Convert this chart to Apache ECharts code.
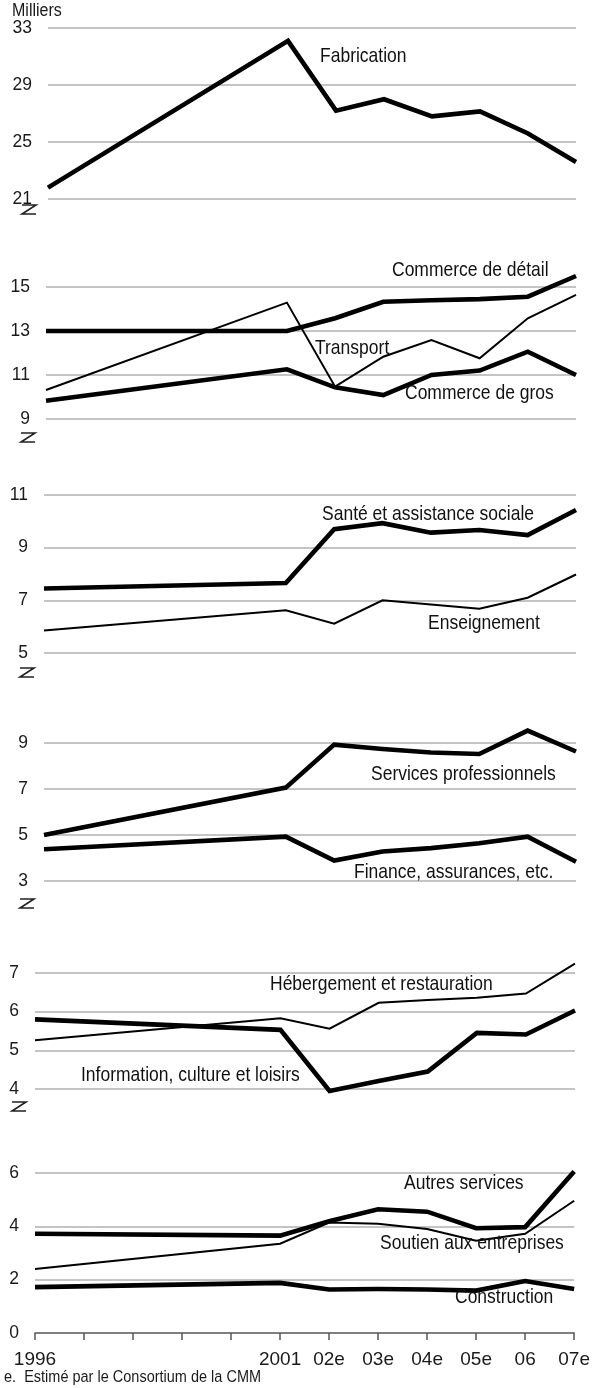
<!DOCTYPE html>
<html>
<head>
<meta charset="utf-8">
<script src="https://cdn.jsdelivr.net/npm/echarts@6/dist/echarts.min.js"></script>
<style>
  html, body { margin: 0; padding: 0; background: #fff; }
  #main { width: 593px; height: 1388px; }
</style>
</head>
<body>
<div id="main"></div>
<script>
// années (1997 à 2000 sans données, la ligne est reliée)
var categories = ['1996', '1997', '1998', '1999', '2000', '2001', '2002', '2003', '2004', '2005', '2006', '2007'];
var tickLabels = ['1996', '', '', '', '', '2001', '02e', '03e', '04e', '05e', '06', '07e'];

// en milliers d'emplois
var fabrication    = [21.8, null, null, null, null, 32.1, 27.2, 28.0, 26.8, 27.15, 25.6, 23.6];
var commerceDetail = [13.0, null, null, null, null, 13.0, 13.58, 14.33, 14.4, 14.45, 14.56, 15.5];
var transport      = [10.32, null, null, null, null, 14.29, 10.47, 11.83, 12.59, 11.76, 13.58, 14.64];
var commerceGros   = [9.83, null, null, null, null, 11.26, 10.44, 10.09, 11.0, 11.2, 12.06, 11.0];
var sante          = [7.45, null, null, null, null, 7.66, 9.70, 9.93, 9.57, 9.67, 9.48, 10.43];
var enseignement   = [5.85, null, null, null, null, 6.62, 6.11, 7.0, 6.84, 6.68, 7.1, 7.98];
var servicesPro    = [5.0, null, null, null, null, 7.06, 8.93, 8.74, 8.59, 8.52, 9.54, 8.63];
var finance        = [4.38, null, null, null, null, 4.93, 3.89, 4.28, 4.43, 4.64, 4.93, 3.84];
var hebergement    = [5.26, null, null, null, null, 5.83, 5.56, 6.23, 6.3, 6.36, 6.47, 7.24];
var information    = [5.8, null, null, null, null, 5.53, 3.95, 4.21, 4.45, 5.45, 5.41, 6.03];
var autresServices = [3.72, null, null, null, null, 3.65, 4.19, 4.64, 4.55, 3.93, 3.97, 6.06];
var soutien        = [2.4, null, null, null, null, 3.35, 4.14, 4.1, 3.9, 3.46, 3.72, 4.96];
var construction   = [1.72, null, null, null, null, 1.88, 1.63, 1.65, 1.63, 1.59, 1.95, 1.65];

var FONT = 'Liberation Sans, Arial, sans-serif';

var myChart = echarts.init(document.getElementById('main'));

// un panneau = une grille
var panels = [
    {grid: {left: 48, right: 17, top: 28, height: 171}, min: 21, max: 33, interval: 4,
     series: [{name: 'Fabrication', data: fabrication, width: 4.6}]},
    {grid: {left: 46, right: 17, top: 287, height: 132}, min: 9, max: 15, interval: 2,
     series: [{name: 'Commerce de détail', data: commerceDetail, width: 4.6},
              {name: 'Transport', data: transport, width: 2},
              {name: 'Commerce de gros', data: commerceGros, width: 4.6}]},
    {grid: {left: 44, right: 17, top: 495, height: 158}, min: 5, max: 11, interval: 2,
     series: [{name: 'Santé et assistance sociale', data: sante, width: 4.6},
              {name: 'Enseignement', data: enseignement, width: 2}]},
    {grid: {left: 44, right: 17, top: 743, height: 138}, min: 3, max: 9, interval: 2,
     series: [{name: 'Services professionnels', data: servicesPro, width: 4.6},
              {name: 'Finance, assurances, etc.', data: finance, width: 4.6}]},
    {grid: {left: 35, right: 18, top: 973, height: 116}, min: 4, max: 7, interval: 1,
     series: [{name: 'Hébergement et restauration', data: hebergement, width: 2},
              {name: 'Information, culture et loisirs', data: information, width: 4.6}]},
    {grid: {left: 35, right: 15, top: 1173, height: 160}, min: 0, max: 6, interval: 2,
     series: [{name: 'Autres services', data: autresServices, width: 4.6},
              {name: 'Soutien aux entreprises', data: soutien, width: 2},
              {name: 'Construction', data: construction, width: 4.6}]}
];

var grids = [], xAxes = [], yAxes = [], seriesList = [];

panels.forEach(function (p, i) {
    var last = (i === panels.length - 1);
    grids.push(p.grid);
    xAxes.push({
        type: 'category',
        gridIndex: i,
        data: categories,
        boundaryGap: false,
        show: last,
        axisLine: {show: last, lineStyle: {color: '#555', width: 1.5}},
        axisTick: {show: last, interval: 0, length: 7, lineStyle: {color: '#555', width: 1.5}},
        axisLabel: {
            show: last, interval: 0, margin: 17, fontSize: 19, color: '#1a1a1a', fontFamily: FONT,
            formatter: function (v, idx) { return tickLabels[idx]; }
        },
        splitLine: {show: false}
    });
    yAxes.push({
        type: 'value',
        gridIndex: i,
        min: p.min, max: p.max, interval: p.interval,
        axisLine: {show: false},
        axisTick: {show: false},
        axisLabel: {margin: 16, fontSize: 17.5, color: '#1a1a1a', fontFamily: FONT},
        splitLine: {
            show: true,
            lineStyle: {color: '#c4c4c4', width: 2},
            showMinLine: !last
        }
    });
    p.series.forEach(function (s) {
        seriesList.push({
            name: s.name,
            type: 'line',
            xAxisIndex: i,
            yAxisIndex: i,
            data: s.data,
            connectNulls: true,
            showSymbol: false,
            symbol: 'none',
            clip: false,
            silent: true,
            lineStyle: {color: '#000', width: s.width, join: 'miter'}
        });
    });
});

// étiquettes des séries (texte un peu étiré en hauteur comme l'original)
var seriesLabels = [
    ['Fabrication', 320, 56],
    ['Commerce de détail', 392, 270],
    ['Transport', 315, 348],
    ['Commerce de gros', 405, 393],
    ['Santé et assistance sociale', 322, 514],
    ['Enseignement', 428, 623],
    ['Services professionnels', 371, 774],
    ['Finance, assurances, etc.', 354, 872],
    ['Hébergement et restauration', 270, 984],
    ['Information, culture et loisirs', 81, 1075],
    ['Autres services', 404, 1183],
    ['Soutien aux entreprises', 380, 1243],
    ['Construction', 455, 1297]
];

var graphics = [];
seriesLabels.forEach(function (l) {
    graphics.push({
        type: 'text', x: l[1], y: l[2], scaleY: 1.15, z: 10,
        style: {text: l[0], fontSize: 17.5, fill: '#111', fontFamily: FONT, verticalAlign: 'middle'}
    });
});

// marques de rupture d'axe
[[22, 205], [21, 433], [20, 668], [20, 899], [12, 1102]].forEach(function (b) {
    graphics.push({
        type: 'polyline', z: 10,
        shape: {points: [[b[0], b[1]], [b[0] + 14, b[1]], [b[0], b[1] + 9], [b[0] + 14, b[1] + 9]]},
        style: {stroke: '#222', lineWidth: 1.6, fill: null}
    });
});

graphics.push({
    type: 'text', x: 12, y: 11, scaleY: 1.15,
    style: {text: 'Milliers', fontSize: 16, fill: '#1a1a1a', fontFamily: FONT, verticalAlign: 'middle'}
});
graphics.push({
    type: 'text', x: 4, y: 1378, scaleY: 1.1,
    style: {text: 'e.  Estimé par le Consortium de la CMM', fontSize: 14.5, fill: '#1a1a1a', fontFamily: FONT, verticalAlign: 'middle'}
});

myChart.setOption({
    animation: false,
    backgroundColor: '#fff',
    grid: grids,
    xAxis: xAxes,
    yAxis: yAxes,
    series: seriesList,
    graphic: graphics
});
</script>
</body>
</html>
